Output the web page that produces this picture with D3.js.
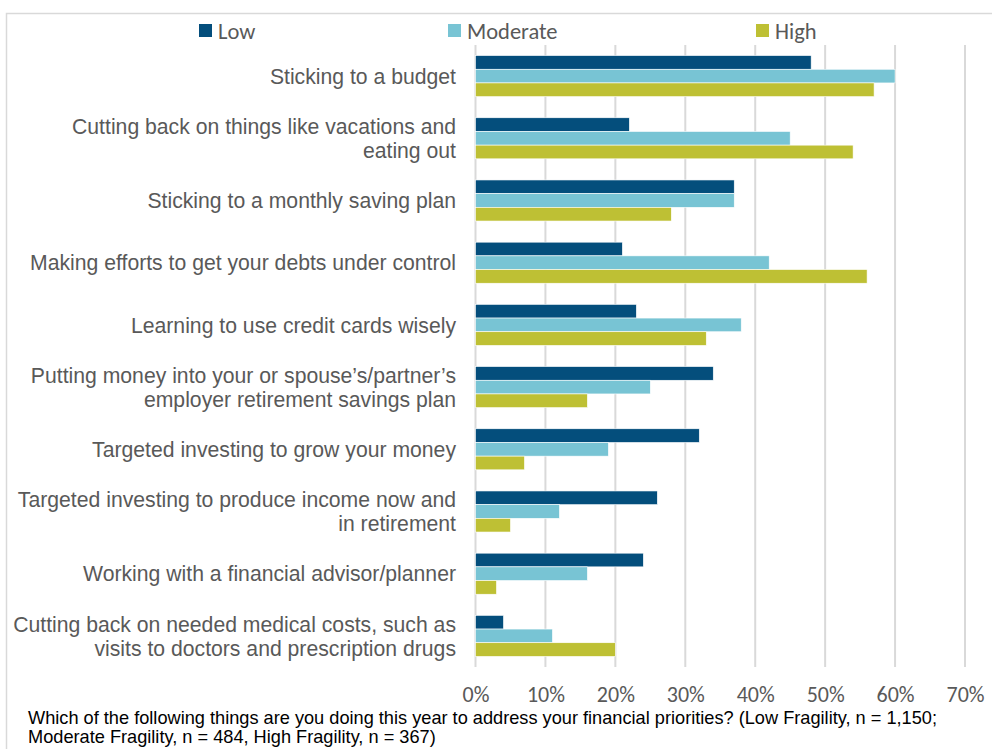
<!DOCTYPE html>
<html>
<head>
<meta charset="utf-8">
<script src="https://cdn.jsdelivr.net/npm/d3@7"></script>
<style>
  html, body { margin: 0; padding: 0; background: #fff; }
  svg { display: block; }
</style>
</head>
<body>
<svg id="chart" width="992" height="749"></svg>
<script>
// Survey items, in display order (top to bottom)
const categories = [
  "Sticking to a budget",
  "Cutting back on things like vacations and\neating out",
  "Sticking to a monthly saving plan",
  "Making efforts to get your debts under control",
  "Learning to use credit cards wisely",
  "Putting money into your or spouse’s/partner’s\nemployer retirement savings plan",
  "Targeted investing to grow your money",
  "Targeted investing to produce income now and\nin retirement",
  "Working with a financial advisor/planner",
  "Cutting back on needed medical costs, such as\nvisits to doctors and prescription drugs"
];

const seriesNames = ["Low", "Moderate", "High"];
const seriesColors = ["#044E7C", "#78C4D4", "#BEC034"];

// Share of respondents (%) by fragility level
const lowValues      = [48, 22, 37, 21, 23, 34, 32, 26, 24, 4];
const moderateValues = [60, 45, 37, 42, 38, 25, 19, 12, 16, 11];
const highValues     = [57, 54, 28, 56, 33, 16, 7, 5, 3, 20];

const tickValues = [0, 10, 20, 30, 40, 50, 60, 70];

const footnoteLines = [
  "Which of the following things are you doing this year to address your financial priorities? (Low Fragility, n = 1,150;",
  "Moderate Fragility, n = 484, High Fragility, n = 367)"
];

const seriesValues = [lowValues, moderateValues, highValues];
const rows = categories.map((c, i) => ({
  category: c,
  values: seriesNames.map((s, j) => ({ series: s, value: seriesValues[j][i], color: seriesColors[j] }))
}));

const svg = d3.select("#chart");
const calibriLike = "Carlito, Lato, 'Open Sans', sans-serif";
const arialLike = "'Liberation Sans', Arial, Helvetica, sans-serif";

// Outer frame (top and left edges visible)
svg.append("path")
  .attr("d", "M6.5,749 V13.5 H992")
  .attr("fill", "none")
  .attr("stroke", "#D9D9D9")
  .attr("stroke-width", 1.5);

const x = d3.scaleLinear().domain([0, 70]).range([475.5, 965]);
const y = d3.scaleBand().domain(categories).range([45, 667])
  .paddingInner(0.34).paddingOuter(0.17);
const ySub = d3.scaleBand().domain(seriesNames).range([0, y.bandwidth()]);

// Vertical gridlines
svg.append("g")
  .selectAll("line")
  .data(tickValues)
  .join("line")
  .attr("x1", d => x(d)).attr("x2", d => x(d))
  .attr("y1", 45).attr("y2", 667)
  .attr("stroke", "#D9D9D9")
  .attr("stroke-width", 2);

// Bars
const groups = svg.append("g")
  .selectAll("g")
  .data(rows)
  .join("g")
  .attr("transform", d => `translate(0,${y(d.category)})`);

groups.selectAll("rect")
  .data(d => d.values)
  .join("rect")
  .attr("x", x(0))
  .attr("y", d => ySub(d.series))
  .attr("width", d => x(d.value) - x(0))
  .attr("height", ySub.bandwidth())
  .attr("fill", d => d.color)
  .attr("stroke", "#ffffff")
  .attr("stroke-width", 0.6);

// Category labels (right-aligned, possibly two lines)
const labelG = svg.append("g")
  .style("font-family", arialLike)
  .style("font-size", "21.2px")
  .attr("fill", "#595959")
  .attr("text-anchor", "end");

categories.forEach(c => {
  const lines = c.split("\n");
  const cy = y(c) + y.bandwidth() / 2;
  const lh = 24;
  const t = labelG.append("text");
  lines.forEach((ln, k) => {
    t.append("tspan")
      .attr("x", 456)
      .attr("y", cy + (k - (lines.length - 1) / 2) * lh)
      .attr("dy", "0.36em")
      .text(ln);
  });
});

// X axis tick labels
const xAxis = d3.axisBottom(x)
  .tickValues(tickValues)
  .tickFormat(d => d + "%")
  .tickSize(0)
  .tickPadding(0);

const axisG = svg.append("g")
  .attr("transform", "translate(0,686)")
  .call(xAxis);
axisG.attr("font-family", null).attr("font-size", null);
axisG.select(".domain").remove();
axisG.selectAll("text")
  .style("font-family", calibriLike)
  .style("font-size", "22px")
  .attr("fill", "#595959")
  .attr("dy", "0.72em");

// Legend
const legendX = [199, 448, 756];
const legend = svg.append("g")
  .selectAll("g")
  .data(seriesNames)
  .join("g")
  .attr("transform", (d, i) => `translate(${legendX[i]},24)`);

legend.append("rect")
  .attr("width", 13).attr("height", 13)
  .attr("fill", (d, i) => seriesColors[i]);

legend.append("text")
  .attr("x", 19)
  .attr("y", 6.5)
  .attr("dy", "0.36em")
  .style("font-family", calibriLike)
  .style("font-size", "22.5px")
  .attr("fill", "#595959")
  .text(d => d);

// Footnote
svg.append("g")
  .style("font-family", arialLike)
  .style("font-size", "18.2px")
  .attr("fill", "#000")
  .selectAll("text")
  .data(footnoteLines)
  .join("text")
  .attr("x", 28)
  .attr("y", (d, i) => 723.5 + i * 19.5)
  .text(d => d);
</script>
</body>
</html>
